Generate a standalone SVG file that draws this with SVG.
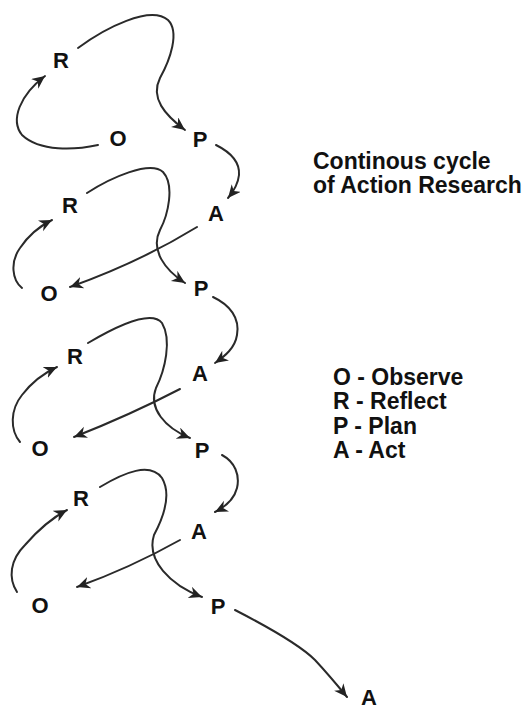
<svg xmlns="http://www.w3.org/2000/svg" width="527" height="710" viewBox="0 0 527 710">
<defs>
<marker id="ah" markerUnits="userSpaceOnUse" markerWidth="16" markerHeight="14" refX="13" refY="6" orient="auto">
<path d="M0,0 L13,6 L0,12 L4,6 Z" fill="#222"/>
</marker>
<style>
.c{fill:none;stroke:#2a2a2a;stroke-width:2;stroke-linecap:round;marker-end:url(#ah)}
.n{font-family:"Liberation Sans",Arial,sans-serif;font-weight:bold;font-size:22px;fill:#111;text-anchor:middle}
.t{font-family:"Liberation Sans",Arial,sans-serif;font-weight:bold;font-size:23px;fill:#111}
</style>
</defs>
<rect width="527" height="710" fill="#fff"/>
<g id="connectors">
<path class="c" d="M98,145 C75,150 40,152 22,135 C10,120 20,95 45,76"/>
<path class="c" d="M78,48 C105,28 150,5 168,20 C180,32 170,60 160,78 C150,98 165,115 185,130"/>
<path class="c" d="M216,145 C230,152 240,162 239,175 C238,185 233,192 228,198"/>
<path class="c" d="M197,227 Q140,262 70,287"/>
<path class="c" d="M22,288 C12,280 10,262 20,248 C28,236 40,226 52,220"/>
<path class="c" d="M87,193 C110,178 150,160 163,172 C175,185 168,215 160,230 C150,250 165,270 185,283"/>
<path class="c" d="M213,297 C230,305 240,318 237,335 C235,348 225,356 215,363"/>
<path class="c" d="M180,389 Q130,415 74,437"/>
<path class="c" d="M20,442 C10,430 10,410 22,395 C32,382 44,373 57,367"/>
<path class="c" d="M88,343 C110,330 150,308 162,323 C172,340 165,370 156,388 C148,408 165,428 190,438"/>
<path class="c" d="M222,455 C235,462 240,475 237,488 C234,500 225,507 215,512"/>
<path class="c" d="M180,540 Q130,568 77,587"/>
<path class="c" d="M17,592 C8,578 10,560 25,545 C38,530 52,518 67,510"/>
<path class="c" d="M100,487 C125,472 150,462 162,478 C172,495 162,520 154,535 C146,560 170,585 202,597"/>
<path class="c" d="M235,610 C270,628 300,645 315,660 C328,674 338,686 347,697"/>
</g>
<g id="R1"><text class="n" x="61" y="68">R</text></g>
<g id="O1"><text class="n" x="118" y="146">O</text></g>
<g id="P1"><text class="n" x="200" y="147">P</text></g>
<g id="A2"><text class="n" x="216" y="221">A</text></g>
<g id="R2"><text class="n" x="70" y="213">R</text></g>
<g id="O2"><text class="n" x="49" y="301">O</text></g>
<g id="P2"><text class="n" x="201" y="296">P</text></g>
<g id="A3"><text class="n" x="200" y="381">A</text></g>
<g id="R3"><text class="n" x="75" y="364">R</text></g>
<g id="O3"><text class="n" x="40" y="456">O</text></g>
<g id="P3"><text class="n" x="202" y="458">P</text></g>
<g id="A4"><text class="n" x="199" y="539">A</text></g>
<g id="R4"><text class="n" x="81" y="506">R</text></g>
<g id="O4"><text class="n" x="40" y="613">O</text></g>
<g id="P4"><text class="n" x="218" y="614">P</text></g>
<g id="A5"><text class="n" x="369" y="705">A</text></g>
<g id="title">
<text class="t" x="313" y="169">Continous cycle</text>
<text class="t" x="313" y="193">of Action Research</text>
</g>
<g id="legend">
<text class="t" x="333" y="385">O - Observe</text>
<text class="t" x="333" y="409">R - Reflect</text>
<text class="t" x="333" y="434">P - Plan</text>
<text class="t" x="333" y="458">A - Act</text>
</g>
</svg>
